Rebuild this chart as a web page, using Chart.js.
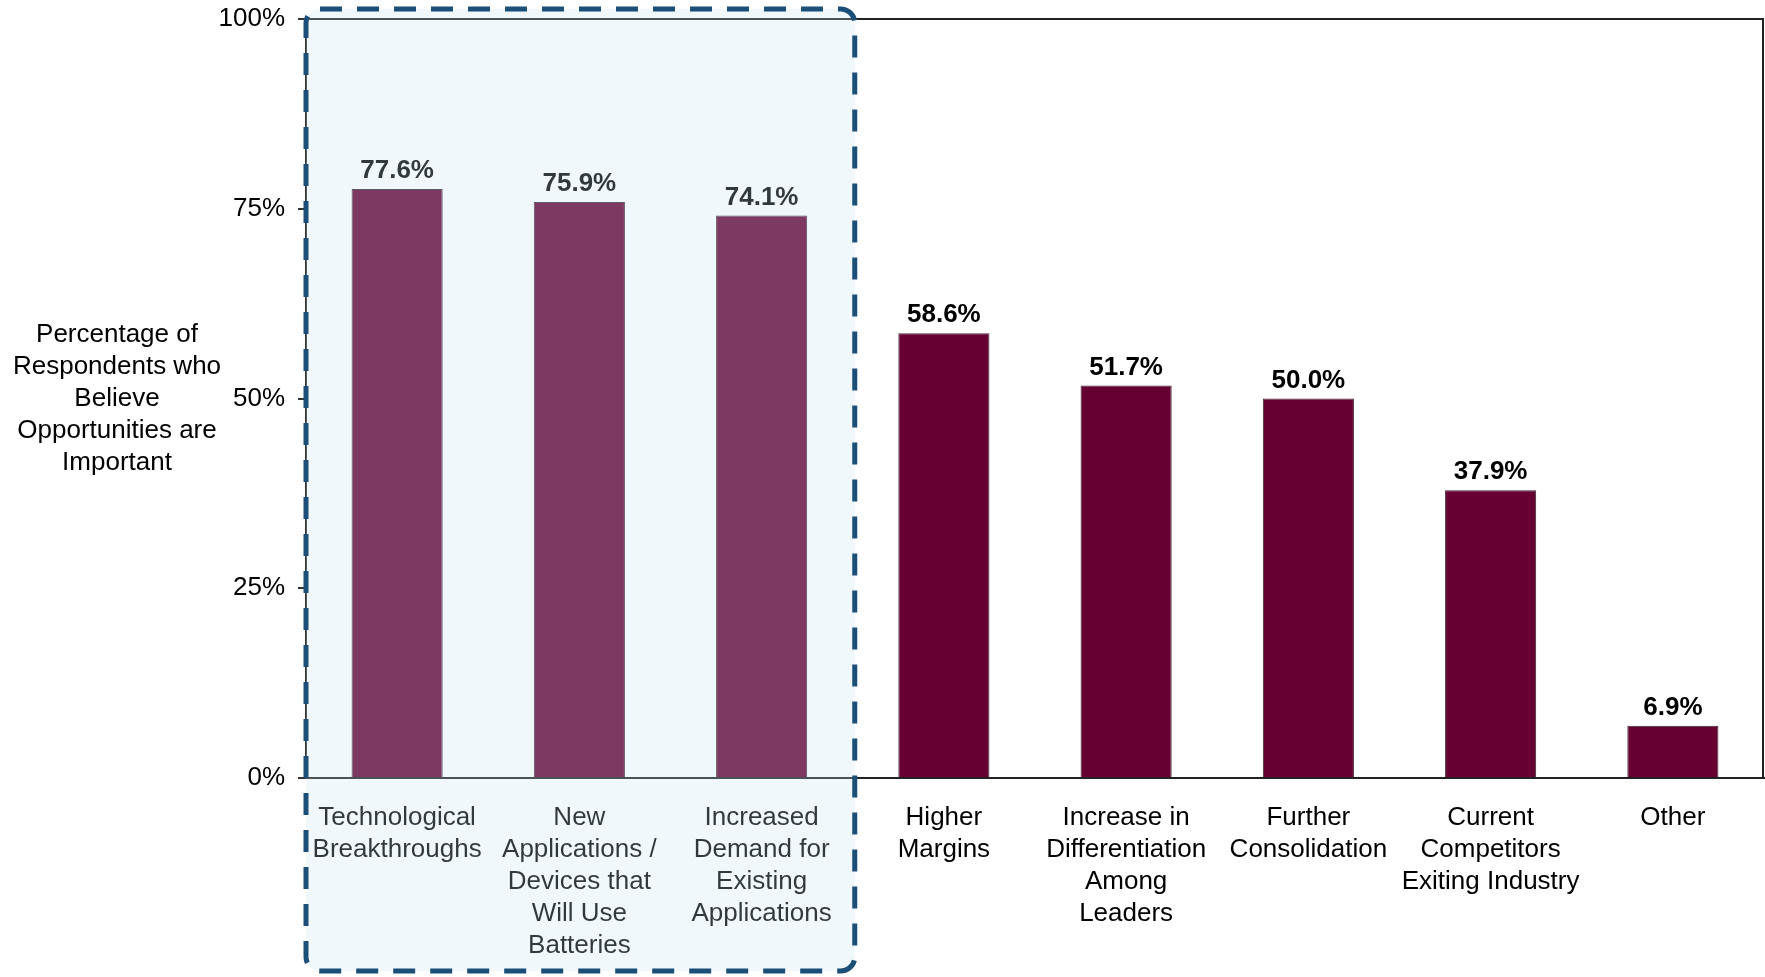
<!DOCTYPE html>
<html>
<head>
<meta charset="utf-8">
<script src="https://cdn.jsdelivr.net/npm/chart.js@4"></script>
<style>
  html, body { margin: 0; padding: 0; background: #fff; }
  #wrap { width: 1765px; height: 977px; position: relative; }
</style>
</head>
<body>
<div id="wrap"><canvas id="chart"></canvas></div>
<script>
// data
const categories = [
  ['Technological', 'Breakthroughs'],
  ['New', 'Applications /', 'Devices that', 'Will Use', 'Batteries'],
  ['Increased', 'Demand for', 'Existing', 'Applications'],
  ['Higher', 'Margins'],
  ['Increase in', 'Differentiation', 'Among', 'Leaders'],
  ['Further', 'Consolidation'],
  ['Current', 'Competitors', 'Exiting Industry'],
  ['Other']
];
const values = [77.6, 75.9, 74.1, 58.6, 51.7, 50.0, 37.9, 6.9];
const yTicks = [0, 25, 50, 75, 100];
const yTitle = ['Percentage of', 'Respondents who', 'Believe', 'Opportunities are', 'Important'];
const highlightCount = 3; // first three categories sit inside the dashed box

const FONT = '"Liberation Sans", Arial, sans-serif';

// frame of the plot area (top and right edges)
const framePlugin = {
  id: 'frame',
  beforeDatasetsDraw(chart) {
    const { ctx, chartArea: a } = chart;
    ctx.save();
    ctx.strokeStyle = '#222';
    ctx.lineWidth = 2;
    ctx.beginPath();
    ctx.moveTo(a.left, a.top);
    ctx.lineTo(a.right - 1, a.top);
    ctx.lineTo(a.right - 1, a.bottom);
    ctx.stroke();
    ctx.restore();
  }
};

// value labels above the bars
const valueLabels = {
  id: 'valueLabels',
  afterDatasetsDraw(chart) {
    const { ctx } = chart;
    const meta = chart.getDatasetMeta(0);
    ctx.save();
    ctx.font = 'bold 26px ' + FONT;
    ctx.fillStyle = '#000';
    ctx.textAlign = 'center';
    ctx.textBaseline = 'alphabetic';
    meta.data.forEach((bar, i) => {
      ctx.fillText(values[i].toFixed(1) + '%', bar.x, bar.y - 11);
    });
    ctx.restore();
  }
};

// y axis title, horizontal, several lines
const yTitlePlugin = {
  id: 'yTitle',
  afterDraw(chart) {
    const { ctx, chartArea: a } = chart;
    const cy = (a.top + a.bottom) / 2;
    ctx.save();
    ctx.font = '26px ' + FONT;
    ctx.fillStyle = '#000';
    ctx.textAlign = 'center';
    ctx.textBaseline = 'middle';
    yTitle.forEach((line, i) => {
      ctx.fillText(line, 117, cy + (i - (yTitle.length - 1) / 2) * 32);
    });
    ctx.restore();
  }
};

// dashed, light blue box over the first categories
const highlightBox = {
  id: 'highlightBox',
  afterDraw(chart) {
    const { ctx, chartArea: a, scales: { x } } = chart;
    const step = x.getPixelForValue(1) - x.getPixelForValue(0);
    const left = a.left;
    const right = x.getPixelForValue(highlightCount - 1) + step / 2 + 2;
    const top = a.top - 10;
    const bottom = chart.height - 6;
    const r = 14;
    ctx.save();
    ctx.beginPath();
    ctx.roundRect(left, top, right - left, bottom - top, r);
    ctx.fillStyle = 'rgba(196, 227, 241, 0.25)';
    ctx.fill();
    ctx.setLineDash([22, 15]);
    ctx.lineWidth = 5;
    ctx.strokeStyle = '#1b4f78';
    ctx.stroke();
    ctx.restore();
  }
};

const ctx = document.getElementById('chart').getContext('2d');
new Chart(ctx, {
  type: 'bar',
  data: {
    labels: categories,
    datasets: [{
      data: values,
      backgroundColor: '#660033',
      borderColor: '#3c2a33',
      borderWidth: 1,
      barPercentage: 0.5,
      categoryPercentage: 1
    }]
  },
  options: {
    responsive: true,
    maintainAspectRatio: false,
    animation: false,
    layout: { padding: { top: 19, right: 1, left: 0, bottom: 0 } },
    plugins: {
      legend: { display: false },
      tooltip: { enabled: false }
    },
    scales: {
      x: {
        grid: { display: false, drawTicks: false },
        border: { display: true, color: '#222', width: 2 },
        ticks: {
          color: '#000',
          font: { family: FONT, size: 26, lineHeight: 1.23 },
          padding: 24,
          maxRotation: 0,
          autoSkip: false
        },
        afterFit(scale) { scale.height = 199; }
      },
      y: {
        min: 0,
        max: 100,
        afterBuildTicks(scale) { scale.ticks = yTicks.map(v => ({ value: v })); },
        grid: { drawOnChartArea: false, drawTicks: true, tickLength: 8, color: '#333', lineWidth: 2 },
        border: { display: true, color: '#333', width: 2 },
        ticks: {
          color: '#000',
          font: { family: FONT, size: 26 },
          padding: 13,
          callback: v => v + '%'
        },
        afterFit(scale) {
          scale.width = 306;
          scale.paddingTop = 0;
          scale.paddingBottom = 0;
        }
      }
    }
  },
  plugins: [framePlugin, valueLabels, yTitlePlugin, highlightBox]
});
</script>
</body>
</html>
